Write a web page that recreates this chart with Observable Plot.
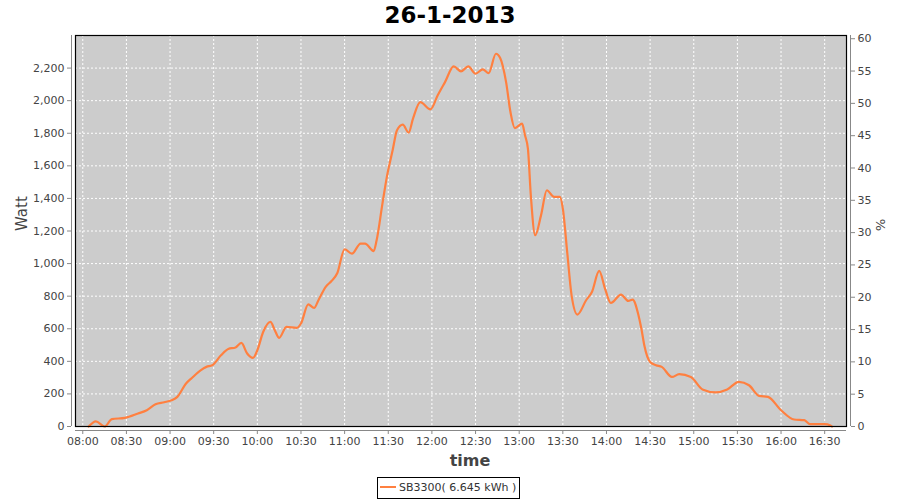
<!DOCTYPE html>
<html>
<head>
<meta charset="utf-8">
<script src="https://cdn.jsdelivr.net/npm/d3@7"></script>
<script src="https://cdn.jsdelivr.net/npm/@observablehq/plot@0.6"></script>
<style>
  body { margin: 0; background: #fff; font-family: "DejaVu Sans", sans-serif; }
  #wrap { position: relative; width: 900px; height: 500px; overflow: hidden; }
  #title { position: absolute; left: 0; top: 0; width: 900px; text-align: center;
           font: bold 23px "DejaVu Sans", sans-serif; line-height: 30px; color: #000; }
  #chart { position: absolute; left: 0; top: 30px; }
  #legend { position: absolute; left: 377px; top: 477px; width: 143px; height: 22px;
            box-sizing: border-box; border: 1px solid #000; background: #fff;
            font: 11px "DejaVu Sans", sans-serif; color: #333; line-height: 20px; white-space: nowrap; }
  #legend .sw { display: inline-block; width: 16px; height: 2px; background: #ff8040;
                vertical-align: middle; margin: 0 3px 0 2px; position: relative; top: -1px; }
</style>
</head>
<body>
<div id="wrap">
  <div id="title"></div>
  <div id="chart"></div>
  <div id="legend"></div>
</div>
<script>
const chartTitle = "26-1-2013";
const seriesName = "SB3300( 6.645 kWh )";
const yLabel = "Watt";
const y2Label = "%";
const xLabel = "time";

// time of day and power in watts
const times = ["08:04","08:09","08:15","08:20","08:29","08:38","08:44","08:50","08:56","09:01",
  "09:05","09:11","09:15","09:21","09:25","09:29","09:35","09:40","09:45","09:49",
  "09:53","09:57","10:00","10:04","10:09","10:12","10:15","10:20","10:27","10:30",
  "10:35","10:39","10:42","10:47","10:51","10:55","11:00","11:05","11:11","11:14",
  "11:20","11:22","11:26","11:29","11:33","11:36","11:40","11:44","11:47","11:52",
  "11:59","12:04","12:09","12:15","12:20","12:25","12:30","12:35","12:39","12:44",
  "12:47","12:51","12:54","12:57","13:02","13:04","13:06","13:08","13:11","13:15",
  "13:19","13:24","13:28","13:30","13:33","13:36","13:40","13:46","13:50","13:55",
  "13:59","14:03","14:10","14:15","14:18","14:22","14:24","14:26","14:30","14:34",
  "14:38","14:45","14:50","14:58","15:06","15:15","15:23","15:31","15:38","15:45",
  "15:51","16:00","16:09","16:16","16:20","16:30","16:34","16:35"];
const watts = [0,32,0,45,53,80,100,137,149,161,
  182,264,298,345,366,376,437,476,485,513,
  448,421,468,580,642,591,544,611,605,632,
  750,728,775,857,893,942,1088,1061,1123,1123,
  1077,1143,1368,1531,1695,1818,1853,1804,1890,1991,
  1947,2033,2114,2210,2180,2210,2166,2192,2169,2288,
  2261,2114,1930,1832,1859,1787,1706,1419,1174,1296,
  1450,1409,1409,1337,1071,806,687,775,826,955,
  847,758,810,771,779,683,600,499,396,376,
  366,304,321,304,227,209,227,274,253,188,
  182,100,43,39,14,14,6,0];

const xTickLabels = ["08:00","08:30","09:00","09:30","10:00","10:30","11:00","11:30","12:00",
  "12:30","13:00","13:30","14:00","14:30","15:00","15:30","16:00","16:30"];
const wattTicks = [0,200,400,600,800,1000,1200,1400,1600,1800,2000,2200];
const pctTicks = [0,5,10,15,20,25,30,35,40,45,50,55,60];
const xDomainLabels = ["07:55","16:45"];
const wattDomain = [0, 2400];
const pctAtWattMax = 60.5;

const parse = d3.utcParse("%H:%M");
const fmt = d3.utcFormat("%H:%M");
const data = times.map((t, i) => ({time: parse(t), watt: watts[i]}));
const xTicks = xTickLabels.map(parse);
const xDomain = xDomainLabels.map(parse);
const wPerPct = wattDomain[1] / pctAtWattMax;

document.getElementById("title").textContent = chartTitle;
document.getElementById("legend").innerHTML = '<span class="sw"></span>' + seriesName;

const axisGray = "#888888";
const labelGray = "#444444";

const plot = Plot.plot({
  width: 900,
  height: 442,
  marginTop: 5,
  marginBottom: 46,
  marginLeft: 75,
  marginRight: 54,
  style: { fontFamily: "'DejaVu Sans', sans-serif", fontSize: "11px", background: "transparent", overflow: "visible" },
  x: { type: "utc", domain: xDomain },
  y: { domain: wattDomain },
  marks: [
    Plot.frame({ fill: "#cccccc" }),
    Plot.gridY(wattTicks.filter(d => d > 0), { stroke: "#ffffff", strokeOpacity: 1, strokeDasharray: "2,2", strokeWidth: 1 }),
    Plot.gridX(xTicks, { stroke: "#ffffff", strokeOpacity: 1, strokeDasharray: "2,2", strokeWidth: 1 }),
    Plot.line(data, { x: "time", y: "watt", stroke: "#ff8040", strokeWidth: 2.2, curve: "monotone-x" }),
    Plot.frame({ stroke: "#000000", strokeWidth: 1.2 }),
    // axis lines, offset outside the plot area
    Plot.ruleX([xDomain[0]], { stroke: axisGray, dx: -4 }),
    Plot.ruleX([xDomain[1]], { stroke: axisGray, dx: 4 }),
    Plot.ruleY([wattDomain[0]], { stroke: axisGray, dy: 4 }),
    Plot.axisY(wattTicks, { anchor: "left", dx: -4, tickSize: 4, tickPadding: 3, stroke: axisGray, fill: labelGray,
      tickFormat: d3.format(","), label: null }),
    Plot.axisY(pctTicks.map(p => p * wPerPct), { anchor: "right", dx: 4, tickSize: 4, tickPadding: 3, stroke: axisGray, fill: labelGray,
      tickFormat: d => String(Math.round(d / wPerPct)), label: null }),
    Plot.axisX(xTicks, { anchor: "bottom", dy: 4, tickSize: 4, tickPadding: 3, stroke: axisGray, fill: labelGray,
      tickFormat: fmt, label: null }),
    Plot.text([yLabel], { frameAnchor: "left", dx: -53, rotate: -90, fontSize: 15, fill: labelGray }),
    Plot.text([y2Label], { frameAnchor: "right", dx: 34, rotate: 90, fontSize: 13, fill: labelGray }),
    Plot.text([xLabel], { frameAnchor: "bottom", lineAnchor: "middle", dy: 34, dx: 9, fontSize: 16, fontWeight: "bold", fill: labelGray })
  ]
});
document.getElementById("chart").appendChild(plot);
</script>
</body>
</html>
